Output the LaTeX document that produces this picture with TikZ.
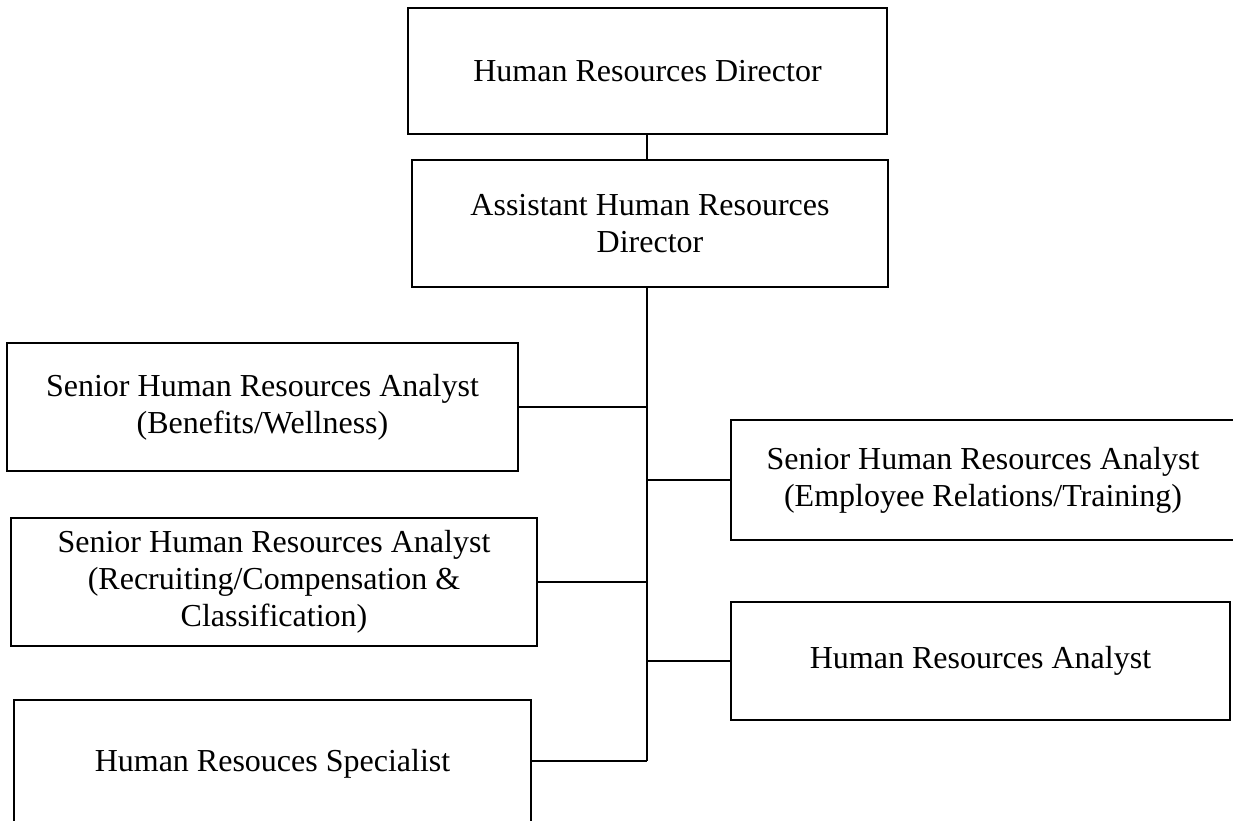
\documentclass[tikz,border=0pt]{standalone}
\usepackage{fontspec}
\setmainfont{Liberation Serif}
\begin{document}
\begin{tikzpicture}[x=1pt,y=-1pt,
  box/.style={draw, line width=2pt, rectangle, inner sep=0pt, align=center,
    font=\fontsize{32}{37}\selectfont},
  conn/.style={draw, line width=2.4pt}]
\useasboundingbox (0,0) rectangle (1233,821);
\clip (0,0) rectangle (1233,821);
\node[box, minimum width=479pt, minimum height=126pt] (dir) at (647.5,71) {Human Resources Director};
\node[box, minimum width=476pt, minimum height=127pt] (asst) at (650,223.5) {Assistant Human Resources\\Director};
\node[box, minimum width=511pt, minimum height=128pt] (ben) at (262.5,407) {Senior Human Resources Analyst\\(Benefits/Wellness)};
\node[box, minimum width=526pt, minimum height=128pt] (rec) at (274,582) {Senior Human Resources Analyst\\(Recruiting/Compensation \&\\Classification)};
\node[box, minimum width=517pt, minimum height=128pt] (spec) at (272.5,764) {Human Resouces Specialist};
\node[box, minimum width=504pt, minimum height=120pt] (emp) at (983,480) {Senior Human Resources Analyst\\(Employee Relations/Training)};
\node[box, minimum width=499pt, minimum height=118pt] (ana) at (980.5,661) {Human Resources Analyst};
\coordinate (sp) at (647,0);
\coordinate (spbot) at (647,761);
\path[conn] (dir.south -| sp) -- (asst.north -| sp);
\path[conn] (asst.south -| sp) -- (spbot);
\path[conn] (ben.east) -- (ben.east -| sp);
\path[conn] (rec.east) -- (rec.east -| sp);
\path[conn] (emp.west) -- (emp.west -| sp);
\path[conn] (ana.west) -- (ana.west -| sp);
\path[conn] (spec.east |- spbot) -- (spbot);
\end{tikzpicture}
\end{document}
